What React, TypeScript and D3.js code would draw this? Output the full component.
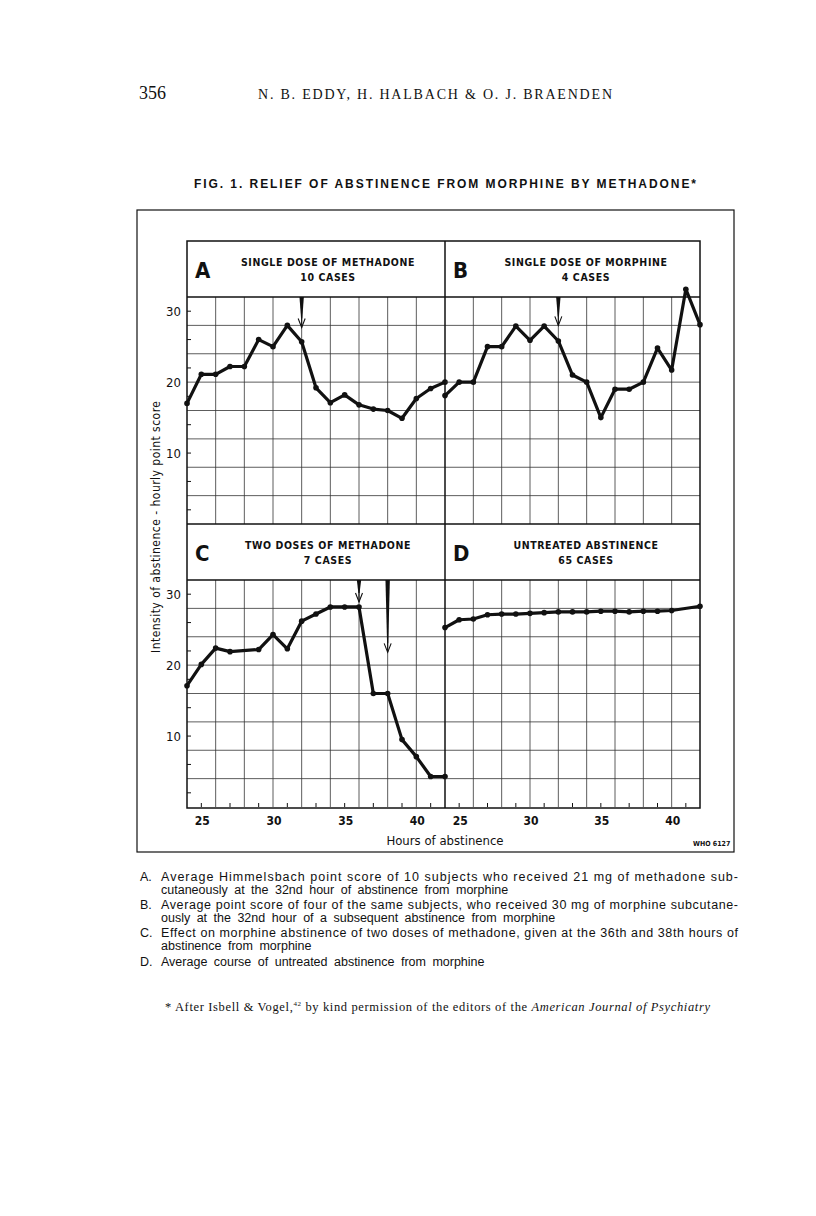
import * as d3 from 'd3';

// hours of abstinence on the x axis (24th to 42nd hour)
const HOURS = [24, 25, 26, 27, 28, 29, 30, 31, 32, 33, 34, 35, 36, 37, 38, 39, 40, 41, 42];
const HOURS_C = [24, 25, 26, 27, 29, 30, 31, 32, 33, 34, 35, 36, 37, 38, 39, 40, 41, 42];
const HOURS_D = [24, 25, 26, 27, 28, 29, 30, 31, 32, 33, 34, 35, 36, 37, 38, 39, 40, 42];

// hourly point scores
const SCORE_A = [17.0, 21.1, 21.1, 22.2, 22.2, 26.0, 25.0, 28.0, 25.7, 19.2, 17.1, 18.2, 16.8, 16.2, 16.0, 14.9, 17.7, 19.1, 20.0];
const SCORE_B = [18.1, 20.0, 20.0, 25.0, 25.0, 27.9, 25.9, 27.9, 25.8, 21.0, 20.0, 15.0, 19.0, 19.0, 20.0, 24.8, 21.7, 33.1, 28.1];
const SCORE_C = [17.1, 20.1, 22.4, 21.9, 22.2, 24.3, 22.3, 26.2, 27.2, 28.2, 28.2, 28.2, 16.0, 16.0, 9.5, 7.1, 4.3, 4.3];
const SCORE_D = [25.3, 26.4, 26.5, 27.1, 27.2, 27.2, 27.3, 27.4, 27.5, 27.5, 27.5, 27.6, 27.6, 27.5, 27.6, 27.6, 27.7, 28.3];

// dose arrows: hour given, and score where the arrow tip stops
const DOSES_A = [{ hour: 32, tip: 27.7 }];
const DOSES_B = [{ hour: 32, tip: 28.0 }];
const DOSES_C = [{ hour: 36, tip: 28.9 }, { hour: 38, tip: 21.8 }];
const DOSES_D: { hour: number; tip: number }[] = [];

const PANEL_LETTERS = ['A', 'B', 'C', 'D'];
const PANEL_TITLES = [
  ['SINGLE DOSE OF METHADONE', '10 CASES'],
  ['SINGLE DOSE OF MORPHINE', '4 CASES'],
  ['TWO DOSES OF METHADONE', '7 CASES'],
  ['UNTREATED ABSTINENCE', '65 CASES'],
];

const X_TICK_LABELS = [25, 30, 35, 40];
const X_MINOR_TICKS = [25, 27, 29, 31, 33, 35, 37, 39, 41];
const X_GRID = [26, 28, 30, 32, 34, 36, 38, 40];
const Y_TICK_LABELS = [10, 20, 30];
const Y_MINOR_TICKS = [2, 6, 10, 14, 18, 22, 26, 30];
const Y_GRID = [4, 8, 12, 16, 20, 24, 28];

const CAPTIONS = [
  {
    label: 'A.',
    lines: [
      'Average Himmelsbach point score of 10 subjects who received 21 mg of methadone sub-',
      'cutaneously at the 32nd hour of abstinence from morphine',
    ],
  },
  {
    label: 'B.',
    lines: [
      'Average point score of four of the same subjects, who received 30 mg of morphine subcutane-',
      'ously at the 32nd hour of a subsequent abstinence from morphine',
    ],
  },
  {
    label: 'C.',
    lines: [
      'Effect on morphine abstinence of two doses of methadone, given at the 36th and 38th hours of',
      'abstinence from morphine',
    ],
  },
  {
    label: 'D.',
    lines: ['Average course of untreated abstinence from morphine'],
  },
];

const PANEL_DATA = [
  { hours: HOURS, scores: SCORE_A, doses: DOSES_A },
  { hours: HOURS, scores: SCORE_B, doses: DOSES_B },
  { hours: HOURS_C, scores: SCORE_C, doses: DOSES_C },
  { hours: HOURS_D, scores: SCORE_D, doses: DOSES_D },
];

const SANS = "'DejaVu Sans Condensed', 'DejaVu Sans', sans-serif";
const TEXT_SANS = "'Liberation Sans', Arial, sans-serif";
const SERIF = "'Liberation Serif', 'DejaVu Serif', serif";
const INK = '#111';

const W = 816;
const H = 1216;
const COLS = [
  [187, 445],
  [445, 700],
];
const ROWS = [241, 524];
const HEADER_H = 56;
const PLOT_H = 227;

function Panel({ index }: { index: number }) {
  const col = COLS[index % 2];
  const top = ROWS[Math.floor(index / 2)];
  const plotTop = top + HEADER_H;
  const plotBottom = plotTop + PLOT_H;
  const { hours, scores, doses } = PANEL_DATA[index];

  const x = d3.scaleLinear().domain([24, 42]).range([col[0], col[1]]);
  const y = d3.scaleLinear().domain([0, 32]).range([plotBottom, plotTop]);
  const pts: [number, number][] = hours.map((h, i) => [h, scores[i]]);
  const line = d3
    .line<[number, number]>()
    .x((d) => x(d[0]))
    .y((d) => y(d[1]));

  const isLeft = index % 2 === 0;
  const isBottom = index >= 2;
  const titleCx = col[0] + 141;

  return (
    <g>
      {/* grid */}
      {X_GRID.map((h) => (
        <line key={'vx' + h} x1={x(h)} x2={x(h)} y1={plotTop} y2={plotBottom} stroke="#333" strokeWidth={0.8} />
      ))}
      {Y_GRID.map((v) => (
        <line key={'hy' + v} x1={col[0]} x2={col[1]} y1={y(v)} y2={y(v)} stroke="#333" strokeWidth={0.8} />
      ))}

      {/* left axis */}
      {isLeft &&
        Y_MINOR_TICKS.map((v) => (
          <line key={'yt' + v} x1={col[0]} x2={col[0] + 4} y1={y(v)} y2={y(v)} stroke={INK} strokeWidth={1} />
        ))}
      {isLeft &&
        Y_TICK_LABELS.map((v) => (
          <text key={'yl' + v} x={181} y={y(v) + 4.5} textAnchor="end" fontFamily={SANS} fontSize={13} fill={INK}>
            {v}
          </text>
        ))}

      {/* bottom axis */}
      {isBottom &&
        X_MINOR_TICKS.map((h) => (
          <line key={'xt' + h} x1={x(h)} x2={x(h)} y1={plotBottom} y2={plotBottom - 4} stroke={INK} strokeWidth={1} />
        ))}
      {isBottom &&
        X_TICK_LABELS.map((h) => (
          <text
            key={'xl' + h}
            x={x(h) + 1}
            y={plotBottom + 18}
            textAnchor="middle"
            fontFamily={SANS}
            fontWeight="bold"
            fontSize={12}
            fill={INK}
          >
            {h}
          </text>
        ))}

      {/* header */}
      <line x1={col[0]} x2={col[1]} y1={plotTop} y2={plotTop} stroke={INK} strokeWidth={1.4} />
      <text x={col[0] + 8} y={top + 37} fontFamily={SANS} fontWeight="bold" fontSize={22} fill={INK}>
        {PANEL_LETTERS[index]}
      </text>
      {PANEL_TITLES[index].map((t, i) => (
        <text
          key={t}
          x={titleCx}
          y={top + 25 + i * 15}
          textAnchor="middle"
          fontFamily={SANS}
          fontWeight="bold"
          fontSize={10.5}
          letterSpacing={0.6}
          fill={INK}
        >
          {t}
        </text>
      ))}

      {/* dose arrows */}
      {doses.map((d) => {
        const ax = x(d.hour);
        const tip = y(d.tip);
        const wedgeEnd = tip - 9;
        return (
          <g key={'dose' + d.hour}>
            <polygon
              points={`${ax - 2.2},${plotTop} ${ax + 2.2},${plotTop} ${ax + 0.6},${wedgeEnd} ${ax - 0.6},${wedgeEnd}`}
              fill={INK}
            />
            <line x1={ax} x2={ax} y1={plotTop} y2={tip} stroke={INK} strokeWidth={1.1} />
            <polyline
              points={`${ax - 3.5},${tip - 9} ${ax},${tip} ${ax + 3.5},${tip - 9}`}
              fill="none"
              stroke={INK}
              strokeWidth={1.1}
            />
          </g>
        );
      })}

      {/* series */}
      <path d={line(pts) ?? ''} fill="none" stroke={INK} strokeWidth={3.2} strokeLinejoin="round" />
      {pts.map((p) => (
        <circle key={'pt' + p[0]} cx={x(p[0])} cy={y(p[1])} r={2.8} fill={INK} />
      ))}
    </g>
  );
}

export default function App() {
  return (
    <svg
      width={W}
      height={H}
      viewBox={`0 0 ${W} ${H}`}
      style={{ position: 'absolute', left: 0, top: 0, background: '#fff' }}
    >
      <rect x={0} y={0} width={W} height={H} fill="#fff" />

      {/* running page header */}
      <text x={139} y={99} fontFamily={SERIF} fontSize={18} fill={INK}>
        356
      </text>
      <text x={258} y={99} fontFamily={SERIF} fontSize={14} textLength={354} lengthAdjust="spacing" fill={INK}>
        N. B. EDDY, H. HALBACH &amp; O. J. BRAENDEN
      </text>

      {/* figure title */}
      <text
        x={194}
        y={188}
        fontFamily={TEXT_SANS}
        fontWeight="bold"
        fontSize={12}
        textLength={502}
        lengthAdjust="spacing"
        fill={INK}
      >
        FIG. 1. RELIEF OF ABSTINENCE FROM MORPHINE BY METHADONE*
      </text>

      {/* outer frame */}
      <rect x={137} y={210} width={597} height={642} fill="none" stroke={INK} strokeWidth={1.2} />

      {[0, 1, 2, 3].map((i) => (
        <Panel key={i} index={i} />
      ))}

      {/* inner frame and dividers */}
      <rect x={187} y={241} width={513} height={567} fill="none" stroke={INK} strokeWidth={1.5} />
      <line x1={445} x2={445} y1={241} y2={808} stroke={INK} strokeWidth={1.5} />
      <line x1={187} x2={700} y1={524} y2={524} stroke={INK} strokeWidth={1.5} />

      {/* axis titles */}
      <text
        transform="translate(160,527) rotate(-90)"
        textAnchor="middle"
        fontFamily={SANS}
        fontSize={12}
        textLength={252}
        lengthAdjust="spacing"
        fill={INK}
      >
        Intensity of abstinence - hourly point score
      </text>
      <text x={445} y={845} textAnchor="middle" fontFamily={SANS} fontSize={13} fill={INK}>
        Hours of abstinence
      </text>
      <text x={693} y={846} fontFamily={SANS} fontWeight="bold" fontSize={7} fill={INK}>
        WHO 6127
      </text>

      {/* legend captions */}
      {CAPTIONS.map((c, i) => {
        const baseY = [881, 909, 937, 966][i];
        return (
          <g key={c.label}>
            <text x={140} y={baseY} fontFamily={TEXT_SANS} fontSize={12.5} fill={INK}>
              {c.label}
            </text>
            {c.lines.map((ln, j) => {
              const justify = j < c.lines.length - 1;
              return (
                <text
                  key={j}
                  x={161}
                  y={baseY + j * 12.5}
                  fontFamily={TEXT_SANS}
                  fontSize={12.5}
                  wordSpacing={justify ? 0 : 3}
                  textLength={justify ? 577 : undefined}
                  lengthAdjust="spacing"
                  fill={INK}
                >
                  {ln}
                </text>
              );
            })}
          </g>
        );
      })}

      {/* footnote */}
      <text
        x={165}
        y={1011}
        fontFamily={SERIF}
        fontSize={12.5}
        textLength={545}
        lengthAdjust="spacing"
        fill={INK}
      >
        * After Isbell &amp; Vogel,
        <tspan fontSize={7} dy={-5}>
          42
        </tspan>
        <tspan dy={5}> by kind permission of the editors of the </tspan>
        <tspan fontStyle="italic">American Journal of Psychiatry</tspan>
      </text>
    </svg>
  );
}
